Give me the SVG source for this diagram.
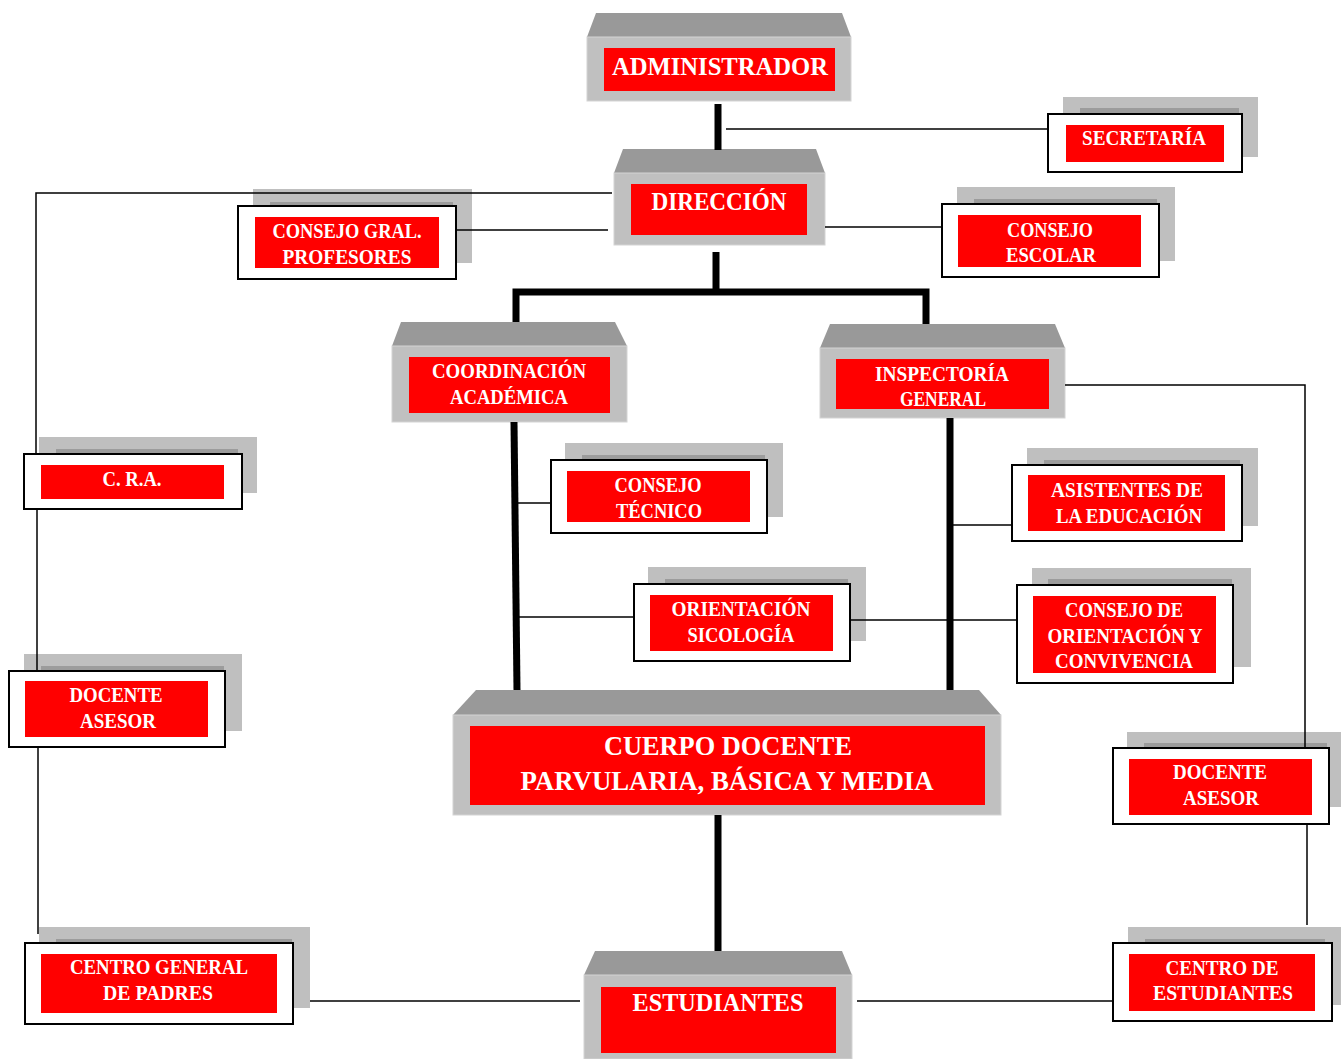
<svg xmlns="http://www.w3.org/2000/svg" width="1341" height="1059" viewBox="0 0 1341 1059">
<style>
.roof{fill:#999999}
.body{fill:#c0c0c0;stroke:#d4d4d4;stroke-width:1}
.red{fill:#ff0000}
.back{fill:#bfbfbf}
.strip{fill:#9c9c9c}
.frame{fill:#ffffff;stroke:#000;stroke-width:2}
.t{font-family:"Liberation Serif","Times New Roman",serif;font-weight:bold;fill:#ffffff;text-anchor:middle}
.s21{font-size:21px}
.s25{font-size:25px}
.s28{font-size:28px}
.thick{stroke:#000;stroke-width:7;fill:none}
.thin{stroke:#000;stroke-width:1.5;fill:none}
</style>
<rect width="1341" height="1059" fill="#ffffff"/>

<g id="administrador">
<polygon class="roof" points="596,13 842,13 851,37 587,37"/>
<rect class="body" x="587" y="37" width="264" height="64"/>
<rect class="red" x="604" y="48" width="231" height="43"/>
<text class="t s25" x="720" y="75" textLength="216" lengthAdjust="spacingAndGlyphs">ADMINISTRADOR</text>
</g>

<g id="direccion">
<polygon class="roof" points="623,149 816,149 825,173 614,173"/>
<rect class="body" x="614" y="173" width="211" height="72"/>
<rect class="red" x="631" y="184" width="176" height="51"/>
<text class="t s25" x="719" y="210" textLength="135" lengthAdjust="spacingAndGlyphs">DIRECCIÓN</text>
</g>

<g id="secretaria">
<rect class="back" x="1063" y="97" width="195" height="60"/>
<rect class="strip" x="1080" y="108" width="159" height="7"/>
<rect class="frame" x="1048" y="114" width="194" height="58"/>
<rect class="red" x="1066" y="125" width="158" height="37"/>
<text class="t s21" x="1144" y="145" textLength="124" lengthAdjust="spacingAndGlyphs">SECRETARÍA</text>
</g>

<g id="consejo-gral">
<rect class="back" x="253" y="189" width="219" height="74"/>
<rect class="strip" x="270" y="202" width="183" height="5"/>
<rect class="frame" x="238" y="206" width="218" height="73"/>
<rect class="red" x="255" y="217" width="184" height="51"/>
<text class="t s21" x="347" y="238" textLength="149" lengthAdjust="spacingAndGlyphs">CONSEJO GRAL.</text>
<text class="t s21" x="347" y="264" textLength="129" lengthAdjust="spacingAndGlyphs">PROFESORES</text>
</g>

<g id="consejo-escolar">
<rect class="back" x="957" y="187" width="218" height="74"/>
<rect class="strip" x="974" y="199" width="183" height="6"/>
<rect class="frame" x="942" y="204" width="217" height="73"/>
<rect class="red" x="958" y="215" width="183" height="52"/>
<text class="t s21" x="1050" y="237" textLength="86" lengthAdjust="spacingAndGlyphs">CONSEJO</text>
<text class="t s21" x="1051" y="262" textLength="90" lengthAdjust="spacingAndGlyphs">ESCOLAR</text>
</g>

<g id="coordinacion">
<polygon class="roof" points="401,322 615,322 627,346 392,346"/>
<rect class="body" x="392" y="346" width="235" height="76"/>
<rect class="red" x="409" y="357" width="201" height="56"/>
<text class="t s21" x="509" y="378" textLength="154" lengthAdjust="spacingAndGlyphs">COORDINACIÓN</text>
<text class="t s21" x="509" y="404" textLength="118" lengthAdjust="spacingAndGlyphs">ACADÉMICA</text>
</g>

<g id="inspectoria">
<polygon class="roof" points="830,324 1055,324 1065,348 820,348"/>
<rect class="body" x="820" y="348" width="245" height="70"/>
<rect class="red" x="836" y="359" width="213" height="50"/>
<text class="t s21" x="942" y="381" textLength="134" lengthAdjust="spacingAndGlyphs">INSPECTORÍA</text>
<text class="t s21" x="943" y="406" textLength="86" lengthAdjust="spacingAndGlyphs">GENERAL</text>
</g>

<g id="cra">
<rect class="back" x="39" y="437" width="218" height="56"/>
<rect class="strip" x="56" y="449" width="182" height="6"/>
<rect class="frame" x="24" y="454" width="218" height="55"/>
<rect class="red" x="41" y="465" width="183" height="34"/>
<text class="t s21" x="132" y="486" textLength="59" lengthAdjust="spacingAndGlyphs">C. R.A.</text>
</g>

<g id="consejo-tecnico">
<rect class="back" x="565" y="443" width="218" height="74"/>
<rect class="strip" x="582" y="455" width="183" height="6"/>
<rect class="frame" x="551" y="460" width="216" height="73"/>
<rect class="red" x="567" y="471" width="183" height="51"/>
<text class="t s21" x="658" y="492" textLength="87" lengthAdjust="spacingAndGlyphs">CONSEJO</text>
<text class="t s21" x="659" y="518" textLength="86" lengthAdjust="spacingAndGlyphs">TÉCNICO</text>
</g>

<g id="asistentes">
<rect class="back" x="1027" y="448" width="231" height="78"/>
<rect class="strip" x="1044" y="460" width="196" height="6"/>
<rect class="frame" x="1012" y="465" width="230" height="76"/>
<rect class="red" x="1028" y="475" width="197" height="56"/>
<text class="t s21" x="1127" y="497" textLength="152" lengthAdjust="spacingAndGlyphs">ASISTENTES DE</text>
<text class="t s21" x="1129" y="523" textLength="146" lengthAdjust="spacingAndGlyphs">LA EDUCACIÓN</text>
</g>

<g id="orientacion">
<rect class="back" x="648" y="567" width="218" height="74"/>
<rect class="strip" x="665" y="579" width="183" height="6"/>
<rect class="frame" x="634" y="584" width="216" height="77"/>
<rect class="red" x="650" y="595" width="183" height="56"/>
<text class="t s21" x="741" y="616" textLength="139" lengthAdjust="spacingAndGlyphs">ORIENTACIÓN</text>
<text class="t s21" x="741" y="642" textLength="107" lengthAdjust="spacingAndGlyphs">SICOLOGÍA</text>
</g>

<g id="consejo-orientacion">
<rect class="back" x="1032" y="568" width="219" height="99"/>
<rect class="strip" x="1048" y="579" width="184" height="6"/>
<rect class="frame" x="1017" y="585" width="216" height="98"/>
<rect class="red" x="1033" y="596" width="183" height="77"/>
<text class="t s21" x="1124" y="617" textLength="118" lengthAdjust="spacingAndGlyphs">CONSEJO DE</text>
<text class="t s21" x="1125" y="643" textLength="155" lengthAdjust="spacingAndGlyphs">ORIENTACIÓN Y</text>
<text class="t s21" x="1124" y="668" textLength="138" lengthAdjust="spacingAndGlyphs">CONVIVENCIA</text>
</g>

<g id="docente-asesor-izq">
<rect class="back" x="24" y="654" width="218" height="77"/>
<rect class="strip" x="41" y="666" width="183" height="6"/>
<rect class="frame" x="9" y="671" width="216" height="76"/>
<rect class="red" x="25" y="681" width="183" height="56"/>
<text class="t s21" x="116" y="702" textLength="93" lengthAdjust="spacingAndGlyphs">DOCENTE</text>
<text class="t s21" x="118" y="728" textLength="76" lengthAdjust="spacingAndGlyphs">ASESOR</text>
</g>

<g id="cuerpo-docente">
<polygon class="roof" points="476,690 979,690 1001,715 453,715"/>
<rect class="body" x="453" y="715" width="548" height="100"/>
<rect class="red" x="470" y="726" width="515" height="79"/>
<text class="t s28" x="728" y="755" textLength="248" lengthAdjust="spacingAndGlyphs">CUERPO DOCENTE</text>
<text class="t s28" x="727" y="790" textLength="413" lengthAdjust="spacingAndGlyphs">PARVULARIA, BÁSICA Y MEDIA</text>
</g>

<g id="docente-asesor-der">
<rect class="back" x="1127" y="732" width="214" height="75"/>
<rect class="strip" x="1144" y="743" width="183" height="6"/>
<rect class="frame" x="1113" y="748" width="216" height="76"/>
<rect class="red" x="1129" y="759" width="183" height="56"/>
<text class="t s21" x="1220" y="779" textLength="94" lengthAdjust="spacingAndGlyphs">DOCENTE</text>
<text class="t s21" x="1221" y="805" textLength="76" lengthAdjust="spacingAndGlyphs">ASESOR</text>
</g>

<g id="centro-padres">
<rect class="back" x="39" y="927" width="271" height="81"/>
<rect class="strip" x="56" y="939" width="236" height="5"/>
<rect class="frame" x="25" y="943" width="268" height="81"/>
<rect class="red" x="41" y="954" width="236" height="59"/>
<text class="t s21" x="159" y="974" textLength="178" lengthAdjust="spacingAndGlyphs">CENTRO GENERAL</text>
<text class="t s21" x="158" y="1000" textLength="110" lengthAdjust="spacingAndGlyphs">DE PADRES</text>
</g>

<g id="estudiantes">
<polygon class="roof" points="595,951 842,951 852,975 584,975"/>
<rect class="body" x="584" y="975" width="268" height="84"/>
<rect class="red" x="601" y="987" width="235" height="66"/>
<text class="t s25" x="718" y="1011" textLength="171" lengthAdjust="spacingAndGlyphs">ESTUDIANTES</text>
</g>

<g id="centro-estudiantes">
<rect class="back" x="1128" y="927" width="213" height="78"/>
<rect class="strip" x="1145" y="939" width="180" height="5"/>
<rect class="frame" x="1113" y="943" width="219" height="78"/>
<rect class="red" x="1129" y="954" width="186" height="57"/>
<text class="t s21" x="1222" y="975" textLength="113" lengthAdjust="spacingAndGlyphs">CENTRO DE</text>
<text class="t s21" x="1223" y="1000" textLength="140" lengthAdjust="spacingAndGlyphs">ESTUDIANTES</text>
</g>

<g id="connectors">
<line class="thick" x1="718" y1="104" x2="718" y2="150"/>
<line class="thick" x1="716" y1="252" x2="716" y2="292"/>
<polyline class="thick" points="516,322 516,292 926,292 926,324"/>
<line class="thick" x1="514" y1="422" x2="517" y2="690"/>
<line class="thick" x1="950" y1="418" x2="950" y2="690"/>
<line class="thick" x1="718" y1="815" x2="718" y2="951"/>
<line class="thin" x1="726" y1="129" x2="1048" y2="129"/>
<polyline class="thin" points="612,193 36,193 36,454"/>
<line class="thin" x1="456" y1="230" x2="608" y2="230"/>
<line class="thin" x1="825" y1="227" x2="942" y2="227"/>
<line class="thin" x1="37" y1="509" x2="37" y2="671"/>
<line class="thin" x1="38" y1="747" x2="38" y2="934"/>
<line class="thin" x1="518" y1="503" x2="551" y2="503"/>
<line class="thin" x1="519" y1="617" x2="634" y2="617"/>
<line class="thin" x1="850" y1="620" x2="1017" y2="620"/>
<line class="thin" x1="953" y1="525" x2="1012" y2="525"/>
<polyline class="thin" points="1065,385 1305,385 1305,748"/>
<line class="thin" x1="1307" y1="824" x2="1307" y2="925"/>
<line class="thin" x1="310" y1="1001" x2="580" y2="1001"/>
<line class="thin" x1="857" y1="1001" x2="1113" y2="1001"/>
</g>
</svg>
